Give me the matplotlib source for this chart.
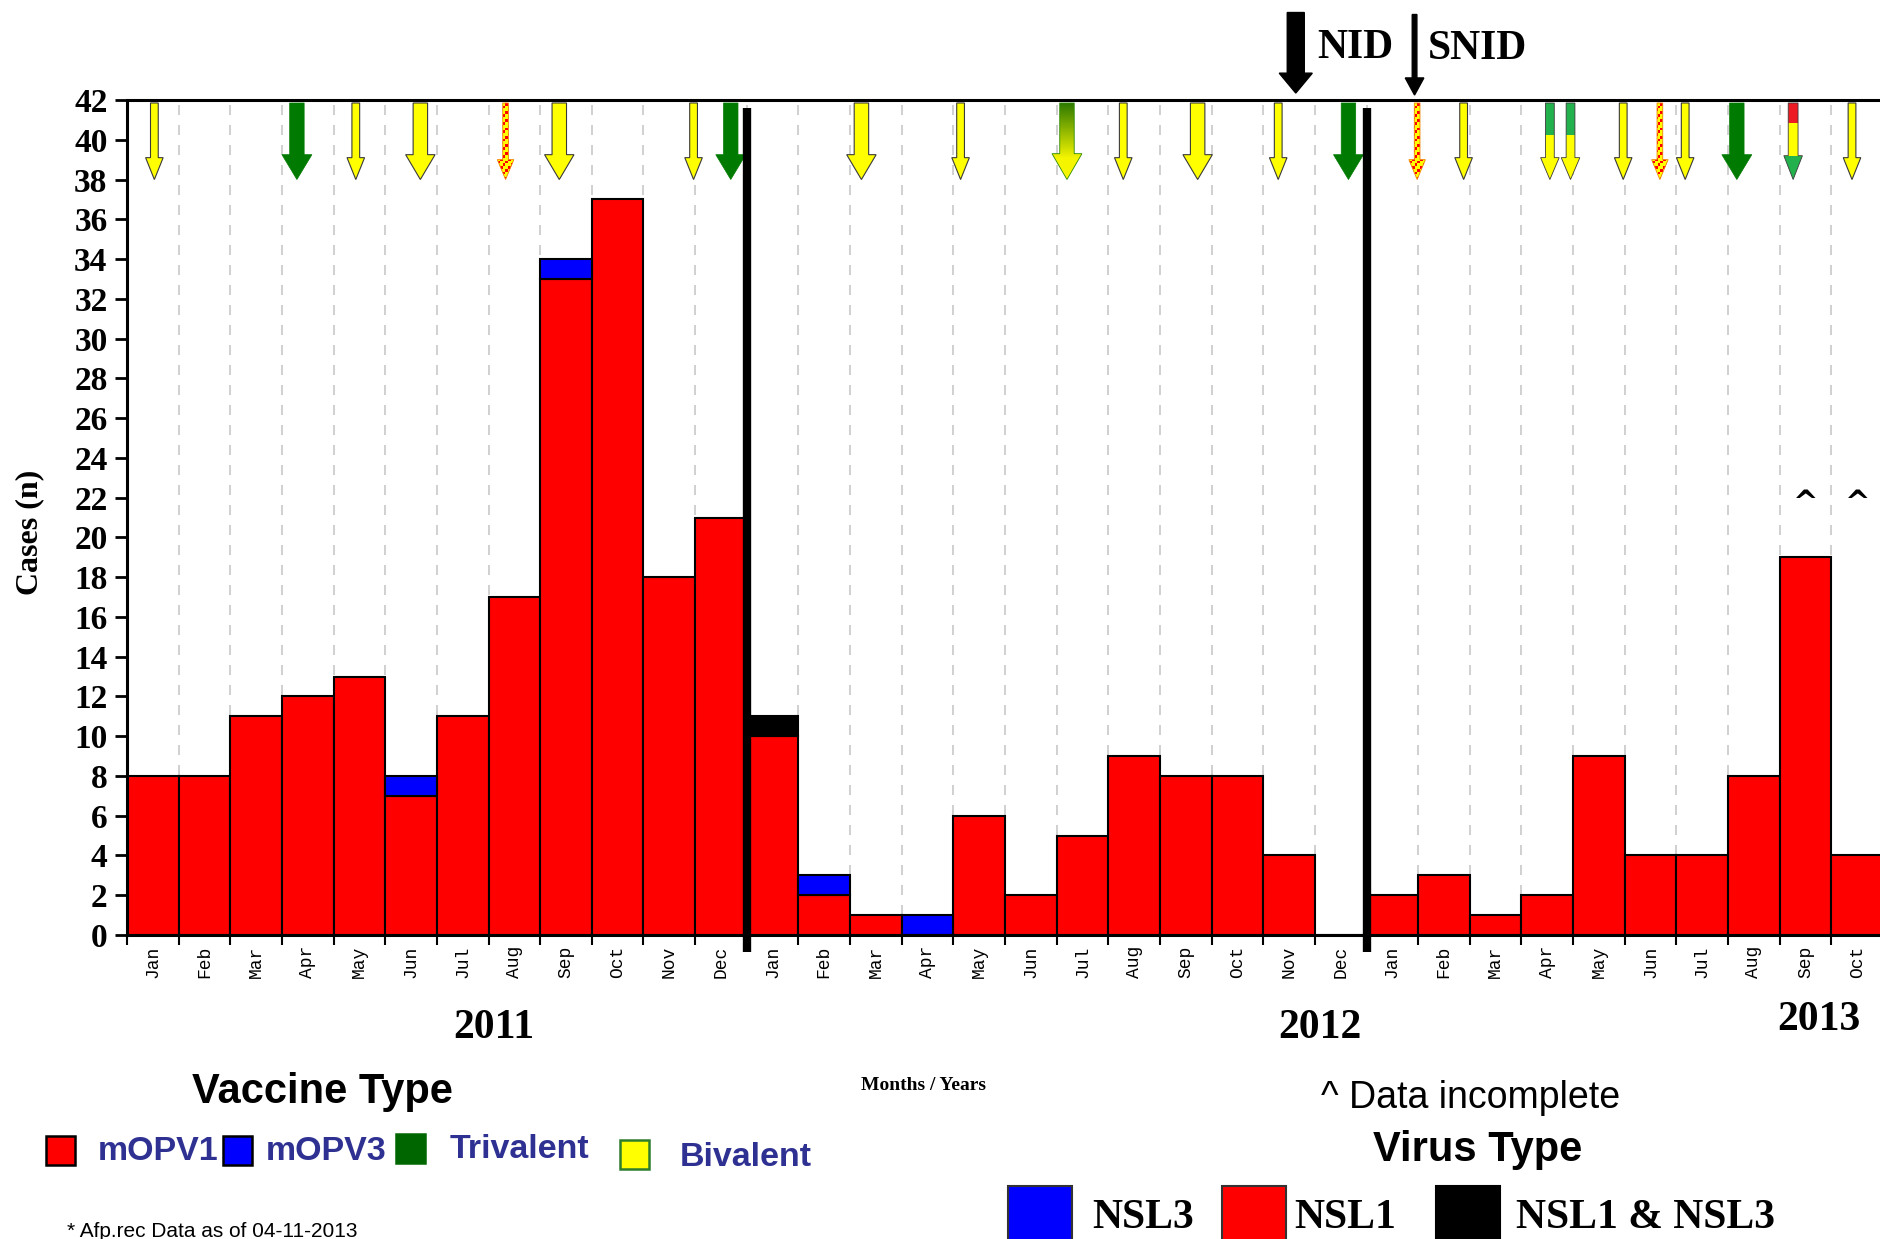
import numpy as np
import matplotlib
matplotlib.use("Agg")
import matplotlib.pyplot as plt
from matplotlib.patches import FancyArrow, Rectangle
import matplotlib.transforms as mtransforms
from matplotlib.colors import to_rgb

# ---------------- data ----------------
month_labels = ["Jan", "Feb", "Mar", "Apr", "May", "Jun", "Jul", "Aug", "Sep", "Oct", "Nov", "Dec",
                "Jan", "Feb", "Mar", "Apr", "May", "Jun", "Jul", "Aug", "Sep", "Oct", "Nov", "Dec",
                "Jan", "Feb", "Mar", "Apr", "May", "Jun", "Jul", "Aug", "Sep", "Oct"]
year_labels = ["2011", "2012", "2013"]
year_label_x = [7.1, 23.1, 32.75]

nsl1 = [8, 8, 11, 12, 13, 7, 11, 17, 33, 37, 18, 21,
        10, 2, 1, 0, 6, 2, 5, 9, 8, 8, 4, 0,
        2, 3, 1, 2, 9, 4, 4, 8, 19, 4]
nsl3 = [0, 0, 0, 0, 0, 1, 0, 0, 1, 0, 0, 0,
        0, 1, 0, 1, 0, 0, 0, 0, 0, 0, 0, 0,
        0, 0, 0, 0, 0, 0, 0, 0, 0, 0]
nsl1_nsl3 = [0, 0, 0, 0, 0, 0, 0, 0, 0, 0, 0, 0,
             1, 0, 0, 0, 0, 0, 0, 0, 0, 0, 0, 0,
             0, 0, 0, 0, 0, 0, 0, 0, 0, 0]
incomplete_months = [32, 33]
year_breaks = [12, 24]

# vaccination campaigns (position on the month axis, vaccine type)
campaign_x = [0.53, 3.29, 4.43, 5.68, 7.33, 8.37, 10.97, 11.69,
              14.22, 16.14, 18.2, 19.29, 20.73, 22.29, 23.65,
              24.98, 25.88, 27.55, 27.95, 28.97, 29.68, 30.17, 31.17, 32.26, 33.4]
campaign_type = ["biv", "tri", "biv", "biv_w", "dot", "biv_w", "biv", "tri",
                 "biv_w", "biv", "grad", "biv", "biv_w", "biv", "tri",
                 "dot", "biv", "tri_biv", "tri_biv", "biv", "dot", "biv", "tri", "mixed", "biv"]

nid_x = 22.63
snid_x = 24.93

# ---------------- figure ----------------
W, H = 1881, 1239
fig = plt.figure(figsize=(W / 100, H / 100), dpi=100)
ax = fig.add_axes([127 / W, 1 - 935 / H, (1883 - 127) / W, (935 - 100) / H])

serif = "Liberation Serif"
sans = "Liberation Sans"
mono = "Liberation Mono"

RED = "#FF0000"
BLUE = "#0000FF"
YEL = "#FFFF00"
GREEN = "#007A00"
LGREEN = "#22B14C"

x = np.arange(len(nsl1)) + 0.5
nsl1_a = np.array(nsl1)
nsl3_a = np.array(nsl3)
mix_a = np.array(nsl1_nsl3)

ax.bar(x, nsl1_a, width=1.0, color=RED, edgecolor="black", linewidth=1.5, zorder=2)
m3 = nsl3_a > 0
ax.bar(x[m3], nsl3_a[m3], bottom=nsl1_a[m3], width=1.0, color=BLUE, edgecolor="black",
       linewidth=1.5, zorder=2)
mm = mix_a > 0
ax.bar(x[mm], mix_a[mm], bottom=(nsl1_a + nsl3_a)[mm], width=1.0, color="black",
       edgecolor="black", linewidth=1.5, zorder=2)

# year separators
for b in year_breaks:
    ax.plot([b, b], [-0.85, 41.6], color="black", lw=6, solid_capstyle="butt",
            clip_on=False, zorder=7)

# ---------------- campaign arrows ----------------
styles = {
    "biv":     dict(w=0.15, hw=0.34, hl=1.1),
    "biv_w":   dict(w=0.28, hw=0.57, hl=1.25),
    "tri":     dict(w=0.28, hw=0.58, hl=1.25),
    "dot":     dict(w=0.11, hw=0.32, hl=1.0),
    "grad":    dict(w=0.28, hw=0.58, hl=1.3),
    "tri_biv": dict(w=0.17, hw=0.36, hl=1.1),
    "mixed":   dict(w=0.19, hw=0.36, hl=1.2),
}
TOP, BOT = 41.85, 38.0


def make_arrow(xc, st, **kw):
    return FancyArrow(xc, TOP, 0, BOT - TOP, width=st["w"], head_width=st["hw"],
                      head_length=st["hl"], length_includes_head=True,
                      transform=ax.transData, **kw)


def band_image(bands, n=100):
    img = np.zeros((n, 1, 3))
    for i in range(n):
        t = i / (n - 1)
        for stop, col in bands:
            if t <= stop:
                img[i, 0] = to_rgb(col)
                break
    return img


for xc, kind in zip(campaign_x, campaign_type):
    st = styles[kind]
    if kind in ("biv", "biv_w"):
        ax.add_patch(make_arrow(xc, st, facecolor=YEL, edgecolor="#3a3a3a", lw=0.8, zorder=6))
    elif kind == "tri":
        ax.add_patch(make_arrow(xc, st, facecolor=GREEN, edgecolor=GREEN, lw=0.5, zorder=6))
    else:
        if kind == "grad":
            n = 80
            img = np.zeros((n, 1, 3))
            g, yv = np.array(to_rgb("#2E7A00")), np.array(to_rgb("#F5F500"))
            for i in range(n):
                t = min(1.0, (i / (n - 1)) / 0.72)
                img[i, 0] = g * (1 - t) + yv * t
            interp, ec = "bilinear", "#2E8B00"
        elif kind == "tri_biv":
            img = band_image([(0.42, LGREEN), (1.0, YEL)])
            interp, ec = "nearest", "#3a3a3a"
        elif kind == "mixed":
            img = band_image([(0.26, "#ED1C24"), (0.69, YEL), (1.0, LGREEN)])
            interp, ec = "nearest", "#3a3a3a"
        else:  # dotted
            rows, cols = 28, 6
            img = np.zeros((rows, cols, 3))
            for i in range(rows):
                for j in range(cols):
                    img[i, j] = to_rgb(RED) if (i + j) % 3 == 0 else to_rgb(YEL)
            interp, ec = "nearest", "#F08000"
        arr = make_arrow(xc, st, facecolor="none", edgecolor=ec, lw=0.6, zorder=6)
        ax.add_patch(arr)
        im = ax.imshow(img, extent=[xc - st["hw"] / 2, xc + st["hw"] / 2, BOT, TOP],
                       aspect="auto", interpolation=interp, origin="upper", zorder=5)
        im.set_clip_path(arr)

# NID / SNID arrows above the plot
ax.add_patch(FancyArrow(nid_x, 46.4, 0, 42.35 - 46.4, width=0.33, head_width=0.64,
                        head_length=1.0, length_includes_head=True, color="black",
                        clip_on=False, zorder=8))
ax.add_patch(FancyArrow(snid_x, 46.3, 0, 42.25 - 46.3, width=0.09, head_width=0.36,
                        head_length=0.86, length_includes_head=True, color="black",
                        clip_on=False, zorder=8))
ax.text(nid_x + 0.42, 44.6, "NID", fontfamily=serif, fontweight="bold", fontsize=30,
        ha="left", va="center", clip_on=False)
ax.text(snid_x + 0.25, 44.55, "SNID", fontfamily=serif, fontweight="bold", fontsize=30,
        ha="left", va="center", clip_on=False)

# incomplete-data markers
for i in incomplete_months:
    ax.text(i + 0.5, 21.3, "^", fontfamily="DejaVu Sans", fontweight="bold", fontsize=22,
            ha="center", va="baseline", zorder=8)

# ---------------- axes styling ----------------
ax.set_xlim(0, len(nsl1))
ax.set_ylim(0, 42)
ax.set_xticks(np.arange(0, len(nsl1) + 1))
ax.set_xticklabels([])
ax.set_xticks(x, minor=True)
ax.set_xticklabels(month_labels, minor=True, rotation=90, fontfamily=mono, fontsize=13)
ax.tick_params(axis="x", which="major", length=7, width=1.5, direction="out")
ax.tick_params(axis="x", which="minor", length=0, pad=8)
ax.set_yticks(np.arange(0, 43, 2))
ax.set_yticklabels([str(v) for v in range(0, 43, 2)], fontfamily=serif,
                   fontweight="bold", fontsize=24)
ax.tick_params(axis="y", length=9, width=2, pad=5)
ax.xaxis.grid(True, which="major", color="#c8c8c8", linestyle=(0, (6, 6)), linewidth=1.2)
ax.set_axisbelow(True)
ax.spines["right"].set_visible(False)
for s in ("left", "top", "bottom"):
    ax.spines[s].set_linewidth(2.2)

fig.text(30 / W, 1 - 532 / H, "Cases (n)", rotation=90, fontfamily=serif,
         fontweight="bold", fontsize=23, ha="center", va="center")

# year labels
blend = mtransforms.blended_transform_factory(ax.transData, fig.transFigure)
year_label_y = [1028, 1028, 1020]
for lab, xp, yp in zip(year_labels, year_label_x, year_label_y):
    ax.text(xp, 1 - yp / H, lab, transform=blend, fontfamily=serif, fontweight="bold",
            fontsize=30, ha="center", va="center", clip_on=False)

fig.text(924 / W, 1 - 1086 / H, "Months / Years", fontfamily=serif, fontweight="bold",
         fontsize=14, ha="center", va="center")

# ---------------- vaccine legend ----------------
fig.text(322 / W, 1 - 1092 / H, "Vaccine Type", fontfamily=sans, fontweight="bold",
         fontsize=30, ha="center", va="center")
LEG_TXT = "#2E3192"
vacc_boxes = [(46, 1136, RED, "black"), (223, 1136, BLUE, "black"),
              (396, 1134, "#006600", "#006600"), (620, 1140, YEL, "#2d7d2d")]
for bx, by, fc, ec in vacc_boxes:
    fig.add_artist(Rectangle((bx / W, 1 - (by + 29) / H), 29 / W, 29 / H,
                             transform=fig.transFigure, facecolor=fc, edgecolor=ec, lw=1.8))
vacc_text = [(98, 1152, "mOPV1"), (266, 1152, "mOPV3"), (450, 1150, "Trivalent"),
             (680, 1157, "Bivalent")]
for tx, ty, lab in vacc_text:
    fig.text(tx / W, 1 - ty / H, lab, fontfamily=sans, fontweight="bold", fontsize=24.5,
             color=LEG_TXT, ha="left", va="center")

fig.text(67 / W, 2 / H, "* Afp.rec Data as of 04-11-2013", fontfamily=sans, fontsize=15,
         ha="left", va="baseline")

# ---------------- virus legend ----------------
fig.text(1471 / W, 1 - 1098 / H, "^ Data incomplete", fontfamily=sans, fontsize=27,
         ha="center", va="center")
fig.text(1478 / W, 1 - 1150 / H, "Virus Type", fontfamily=sans, fontweight="bold",
         fontsize=30, ha="center", va="center")
virus_boxes = [(1008, BLUE, "#333333"), (1222, RED, "#333333"), (1436, "black", "black")]
for bx, fc, ec in virus_boxes:
    fig.add_artist(Rectangle((bx / W, 1 - 1250 / H), 64 / W, (1250 - 1186) / H,
                             transform=fig.transFigure, facecolor=fc, edgecolor=ec, lw=1.5))
virus_text = [(1092, "NSL3"), (1294, "NSL1"), (1516, "NSL1 & NSL3")]
for tx, lab in virus_text:
    fig.text(tx / W, 1 - 1218 / H, lab, fontfamily=serif, fontweight="bold", fontsize=30,
             ha="left", va="center")

fig.savefig("out.png", dpi=100)
